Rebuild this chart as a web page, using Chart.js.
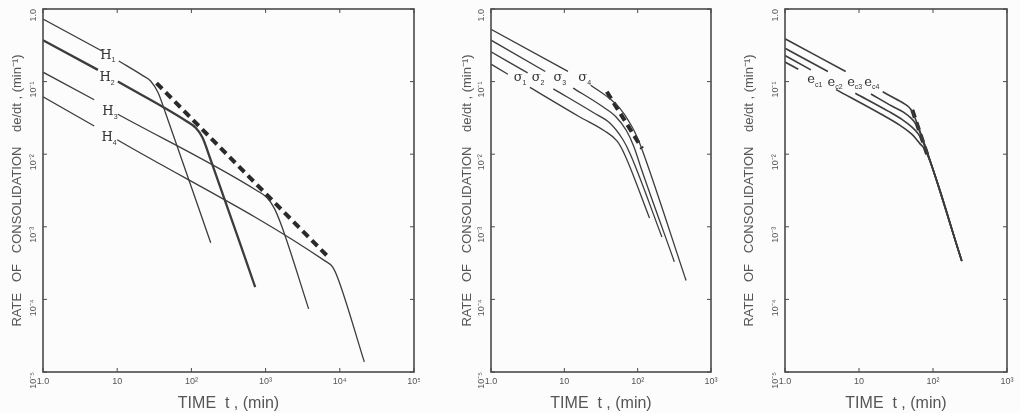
<!DOCTYPE html>
<html>
<head>
<meta charset="utf-8">
<script src="https://cdn.jsdelivr.net/npm/chart.js@4/dist/chart.umd.min.js"></script>
<style>
  html, body { margin: 0; padding: 0; background: #fcfcfc; }
  canvas { position: absolute; top: 0; }
</style>
</head>
<body>
<canvas id="c1" width="420" height="413" style="left:0"></canvas>
<canvas id="c2" width="300" height="413" style="left:420px"></canvas>
<canvas id="c3" width="300" height="413" style="left:720px"></canvas>
<script>
// axis ticks
const xTicksWide = [1, 10, 100, 1000, 10000, 100000]
const xLabelsWide = ['1.0', '10', '10²', '10³', '10⁴', '10⁵']
const xTicksNarrow = [1, 10, 100, 1000]
const xLabelsNarrow = ['1.0', '10', '10²', '10³']
const yTicks = [1e-5, 1e-4, 1e-3, 1e-2, 1e-1, 1]
const yLabels = ['10⁻⁵', '10⁻⁴', '10⁻³', '10⁻²', '10⁻¹', '1.0']

// panel 1 - layer thickness H1..H4 (null = gap for the label)
const h1Time = [1, 6.24, null, 10.5, 22.4, 28.2, 35.5, 44.7, 182]
const h1Rate = [0.728, 0.264, null, 0.192, 0.120, 0.102, 0.0708, 0.0372, 0.000603]
const h2Time = [1, 5.50, null, 10.2, 87.1, 115, 141, 178, 724]
const h2Rate = [0.372, 0.145, null, 0.100, 0.0282, 0.0229, 0.0170, 0.00891, 0.000148]
const h3Time = [1, 4.90, null, 10.2, 759, 1047, 1318, 1660, 3802]
const h3Rate = [0.135, 0.0562, null, 0.0355, 0.00316, 0.00251, 0.00178, 0.001, 0.0000741]
const h4Time = [1, 4.90, null, 10, 6310, 7943, 9333, 21380]
const h4Rate = [0.0617, 0.0245, null, 0.0158, 0.000339, 0.000282, 0.0002, 0.0000138]
const h1DashTime = [33.9, 6918]
const h1DashRate = [0.0955, 0.000389]

// panel 2 - stress sigma1..sigma4
const s4Time = [1, 11.2, null, 22.9, 39.8, 56.2, 79.4, 100, 126, 457]
const s4Rate = [0.525, 0.138, null, 0.0891, 0.0603, 0.0437, 0.0263, 0.0166, 0.00891, 0.000182]
const s3Time = [1, 5.50, null, 13.2, 31.6, 50.1, 70.8, 89.1, 112, 316]
const s3Rate = [0.372, 0.138, null, 0.0813, 0.0468, 0.0331, 0.0209, 0.0126, 0.00631, 0.000331]
const s2Time = [1, 3.16, null, 7.08, 25.1, 41.7, 63.1, 79.4, 214]
const s2Rate = [0.257, 0.132, null, 0.0794, 0.0372, 0.0269, 0.0158, 0.01, 0.000724]
const s1Time = [1, 1.70, null, 3.39, 15.8, 35.5, 52.5, 66.1, 145]
const s1Rate = [0.174, 0.126, null, 0.0832, 0.0331, 0.0209, 0.0151, 0.01, 0.00132]
const s2DashTime = [38, 115]
const s2DashRate = [0.0724, 0.0120]

// panel 3 - void ratio ec1..ec4
const e4Time = [1, 6.61, null, 20.9, 31.6, 41.7, 50.1, 56.2, 245]
const e4Rate = [0.389, 0.138, null, 0.0724, 0.0575, 0.0490, 0.0417, 0.0331, 0.000339]
const e3Time = [1, 3.80, null, 14.5, 28.2, 39.8, 50.1, 57.5, 63.1, 245]
const e3Rate = [0.288, 0.138, null, 0.0676, 0.0457, 0.0380, 0.0316, 0.0269, 0.0229, 0.000339]
const e2Time = [1, 2.24, null, 8.91, 25.1, 38.0, 52.5, 63.1, 72.4, 245]
const e2Rate = [0.229, 0.145, null, 0.0692, 0.0389, 0.0302, 0.0234, 0.0191, 0.0151, 0.000339]
const e1Time = [1, 1.51, null, 4.90, 20.0, 35.5, 52.5, 66.1, 79.4, 245]
const e1Rate = [0.186, 0.148, null, 0.0776, 0.0355, 0.0251, 0.0186, 0.0141, 0.0112, 0.000339]
const e3DashTime = [52.5, 83.2]
const e3DashRate = [0.0407, 0.01]

// curve labels: [text, subscript, time, rate]
const labels1 = [['H', '1', 7.5, 0.23], ['H', '2', 7.3, 0.112], ['H', '3', 8.0, 0.038], ['H', '4', 7.8, 0.0167]]
const labels2 = [['σ', '1', 2.5, 0.112], ['σ', '2', 4.4, 0.112], ['σ', '3', 8.7, 0.112], ['σ', '4', 19, 0.112]]
const labels3 = [['e', 'c1', 2.4, 0.105], ['e', 'c2', 4.5, 0.098], ['e', 'c3', 8.3, 0.098], ['e', 'c4', 14.1, 0.098]]

const ink = '#3c3c3c'

const toPoints = (time, rate) => time.map((t, i) => ({ x: t == null ? time[i - 1] : t, y: rate[i] }))

const curve = (time, rate, width) => ({
  data: toPoints(time, rate),
  borderColor: ink,
  borderWidth: width || 1.3,
  cubicInterpolationMode: 'monotone',
  spanGaps: false,
})

const dashed = (time, rate) => ({
  data: toPoints(time, rate),
  borderColor: '#2a2a2a',
  borderWidth: 4,
  borderDash: [8, 5],
})

const framePlugin = {
  id: 'frame',
  afterDatasetsDraw(chart) {
    const { ctx, chartArea: a, scales } = chart
    ctx.save()
    ctx.strokeStyle = '#4a4a4a'
    ctx.lineWidth = 1.6
    ctx.strokeRect(a.left, a.top, a.right - a.left, a.bottom - a.top)
    ctx.lineWidth = 1
    scales.x.ticks.forEach(t => {
      const px = scales.x.getPixelForValue(t.value)
      ctx.beginPath()
      ctx.moveTo(px, a.top); ctx.lineTo(px, a.top + 4)
      ctx.moveTo(px, a.bottom); ctx.lineTo(px, a.bottom - 4)
      ctx.stroke()
    })
    scales.y.ticks.forEach(t => {
      const py = scales.y.getPixelForValue(t.value)
      ctx.beginPath()
      ctx.moveTo(a.left, py); ctx.lineTo(a.left + 4, py)
      ctx.moveTo(a.right, py); ctx.lineTo(a.right - 4, py)
      ctx.stroke()
    })
    // curve labels
    const items = chart.options.plugins.frame.items
    ctx.fillStyle = '#333'
    ctx.textBaseline = 'middle'
    items.forEach(([txt, sub, t, r]) => {
      const px = scales.x.getPixelForValue(t)
      const py = scales.y.getPixelForValue(r)
      ctx.font = '13px "DejaVu Serif"'
      const w = ctx.measureText(txt).width
      ctx.textAlign = 'left'
      ctx.fillText(txt, px - w / 2 - 2, py)
      ctx.font = '7px "Liberation Sans"'
      ctx.fillText(sub, px + w / 2 - 2, py + 5)
    })
    ctx.restore()
  }
}

const makeChart = (id, xTicks, xLabels, datasets, items, yWidth, padRight, titlePad) => {
  const ctx = document.getElementById(id).getContext('2d')
  return new Chart(ctx, {
    type: 'line',
    data: { datasets },
    options: {
      responsive: false,
      animation: false,
      parsing: false,
      layout: { padding: { top: 9, right: padRight, left: 0, bottom: 0 } },
      elements: { point: { radius: 0 } },
      plugins: {
        legend: { display: false },
        tooltip: { enabled: false },
        frame: { items },
      },
      scales: {
        x: {
          type: 'logarithmic',
          min: xTicks[0],
          max: xTicks[xTicks.length - 1],
          grid: { display: false, drawTicks: false },
          border: { display: false },
          afterBuildTicks: s => { s.ticks = xTicks.map(v => ({ value: v })) },
          afterFit: s => { s.height = 41; s.paddingLeft = 0; s.paddingRight = 0 },
          ticks: {
            callback: v => xLabels[xTicks.indexOf(v)],
            autoSkip: false,
            maxRotation: 0,
            color: '#555',
            font: { family: 'Liberation Sans', size: 9 },
            padding: 4,
          },
          title: {
            display: true,
            text: 'TIME  t , (min)',
            color: '#555',
            font: { family: 'Liberation Sans', size: 16 },
            padding: { top: 3, bottom: 0 },
          },
        },
        y: {
          type: 'logarithmic',
          min: 1e-5,
          max: 1,
          grid: { display: false, drawTicks: false },
          border: { display: false },
          afterBuildTicks: s => { s.ticks = yTicks.map(v => ({ value: v })) },
          afterFit: s => { s.width = yWidth; s.paddingTop = 0; s.paddingBottom = 0 },
          ticks: {
            callback: v => yLabels[yTicks.indexOf(v)],
            minRotation: 90,
            maxRotation: 90,
            color: '#555',
            font: { family: 'Liberation Sans', size: 9 },
            padding: 9,
          },
          title: {
            display: true,
            text: 'RATE   OF   CONSOLIDATION    de/dt , (min⁻¹)',
            color: '#555',
            font: { family: 'Liberation Sans', size: 13 },
            padding: { top: titlePad, bottom: 0 },
          },
        },
      },
    },
    plugins: [framePlugin],
  })
}

makeChart('c1', xTicksWide, xLabelsWide, [
  curve(h1Time, h1Rate),
  curve(h2Time, h2Rate, 2.3),
  curve(h3Time, h3Rate),
  curve(h4Time, h4Rate),
  dashed(h1DashTime, h1DashRate),
], labels1, 43, 6, 10)

makeChart('c2', xTicksNarrow, xLabelsNarrow, [
  curve(s4Time, s4Rate),
  curve(s3Time, s3Rate),
  curve(s2Time, s2Rate),
  curve(s1Time, s1Rate),
  dashed(s2DashTime, s2DashRate),
], labels2, 71, 9, 40)

makeChart('c3', xTicksNarrow, xLabelsNarrow, [
  curve(e4Time, e4Rate, 1.6),
  curve(e3Time, e3Rate, 1.6),
  curve(e2Time, e2Rate, 1.6),
  curve(e1Time, e1Rate, 1.6),
  dashed(e3DashTime, e3DashRate),
], labels3, 65, 13, 22)
</script>
</body>
</html>
